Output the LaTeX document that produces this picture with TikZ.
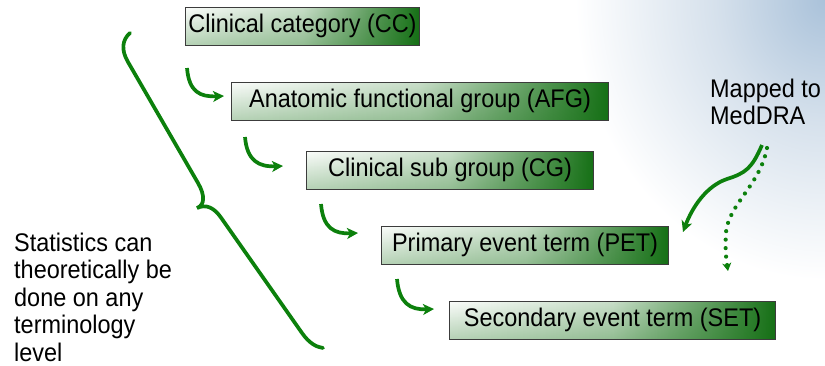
\documentclass[tikz,border=0pt]{standalone}
\usepackage{fontspec}
\setmainfont{Liberation Sans}[FakeStretch=0.92]
\usetikzlibrary{arrows.meta,fadings}

\definecolor{lineGreen}{RGB}{12,128,12}
\definecolor{bxlight}{RGB}{250,252,250}
\definecolor{bxmid}{RGB}{200,222,200}
\definecolor{bxdark}{RGB}{22,112,22}
\definecolor{bxborder}{RGB}{60,60,60}
\definecolor{bgblue}{RGB}{170,194,218}
\definecolor{bgmid}{RGB}{214,225,236}

% left-to-right fill of the term boxes
\pgfdeclarehorizontalshading{termshade}{100bp}{%
  color(0bp)=(bxlight); color(25bp)=(bxlight); color(50bp)=(bxmid);
  color(75bp)=(bxdark); color(100bp)=(bxdark)}

% green deepening towards the bottom edge of each box
\tikzfading[name=bottomdeep, top color=transparent!100, bottom color=transparent!70]

% soft corner glow, fading out faster than a linear ramp
\pgfdeclareradialshading{cornerglow}{\pgfpoint{0bp}{0bp}}{%
  color(0bp)=(bgblue); color(11bp)=(bgmid); color(25bp)=(white); color(50bp)=(white)}

\tikzset{
  termbox/.style={draw=bxborder, line width=1.1pt, shading=termshade,
    path picture={\fill[bxdark, path fading=bottomdeep]
      (path picture bounding box.south west) rectangle (path picture bounding box.north east);},
    minimum height=37.5pt, inner sep=0pt, anchor=north west,
    font=\fontsize{25.5}{28}\selectfont},
  hookarrow/.style={draw=lineGreen, line width=3.7pt,
    -{Stealth[length=11pt,width=11pt,inset=3pt]}},
  dotarrow/.style={draw=lineGreen, line width=4.2pt, line cap=round,
    dash pattern=on 0pt off 8.5pt,
    -{Stealth[length=8pt,width=9pt,inset=2.5pt]}},
  bracestroke/.style={draw=lineGreen, line width=3.7pt, line cap=round},
  note/.style={align=left, inner sep=0pt, anchor=north west,
    font=\fontsize{25.5}{27.5}\selectfont}
}

\begin{document}
\begin{tikzpicture}[x=1pt, y=-1pt]
  \useasboundingbox (0,0) rectangle (825,365);
  \fill[white] (0,0) rectangle (825,365);

  % soft blue glow in the upper right corner
  \begin{scope}
    \clip (0,0) rectangle (825,365);
    \shade[shading=cornerglow] (825,0) ellipse [x radius=250, y radius=280];
  \end{scope}

  % hierarchy of terminology levels
  \node[termbox, minimum width=234pt] (cc)  at (185,7)   {Clinical category (CC)};
  \node[termbox, minimum width=377pt] (afg) at (231,82)  {Anatomic functional group (AFG)};
  \node[termbox, minimum width=287pt] (cg)  at (306,151) {Clinical sub group (CG)};
  \node[termbox, minimum width=287pt] (pet) at (381,226) {Primary event term (PET)};
  \node[termbox, minimum width=326pt] (set) at (449,301) {Secondary event term (SET)};

  % hooked arrows stepping down to the next level
  \coordinate (a1s) at (187,68);  \coordinate (a1t) at (224,96);
  \coordinate (a2s) at (245,137); \coordinate (a2t) at (283,166);
  \coordinate (a3s) at (321,204); \coordinate (a3t) at (358,233);
  \coordinate (a4s) at (397,279); \coordinate (a4t) at (434,309);
  \draw[hookarrow] (a1s) .. controls +(2,24) and +(-24,1) .. (a1t);
  \draw[hookarrow] (a2s) .. controls +(2,24) and +(-24,1) .. (a2t);
  \draw[hookarrow] (a3s) .. controls +(2,24) and +(-24,1) .. (a3t);
  \draw[hookarrow] (a4s) .. controls +(2,24) and +(-24,1) .. (a4t);

  % large brace spanning all levels
  \draw[bracestroke] (130,33) .. controls (122,40) and (121,50) .. (128,62)
    -- (198,183) .. controls (205,195) and (205,205) .. (197,208)
    .. controls (206,204) and (214,207) .. (222,219)
    -- (302,333) .. controls (309,343) and (316,347) .. (323,348);

  \node[note] (stats) at (14,232.5)
    {Statistics can\\theoretically be\\done on any\\terminology\\level};

  \node[note] (map) at (710,78.5) {Mapped to\\MedDRA};

  % links to MedDRA
  \coordinate (m1s) at (762,145); \coordinate (m1t) at (683,232);
  \coordinate (m2s) at (767,148); \coordinate (m2t) at (728,271);
  \draw[hookarrow] (m1s) .. controls (752,168) and (746,173) .. (727,179)
    .. controls (706,186) and (692,208) .. (m1t);
  \draw[dotarrow] (m2s) .. controls (760,185) and (729,204) .. (726,232)
    .. controls (725,248) and (726,258) .. (m2t);
\end{tikzpicture}
\end{document}
